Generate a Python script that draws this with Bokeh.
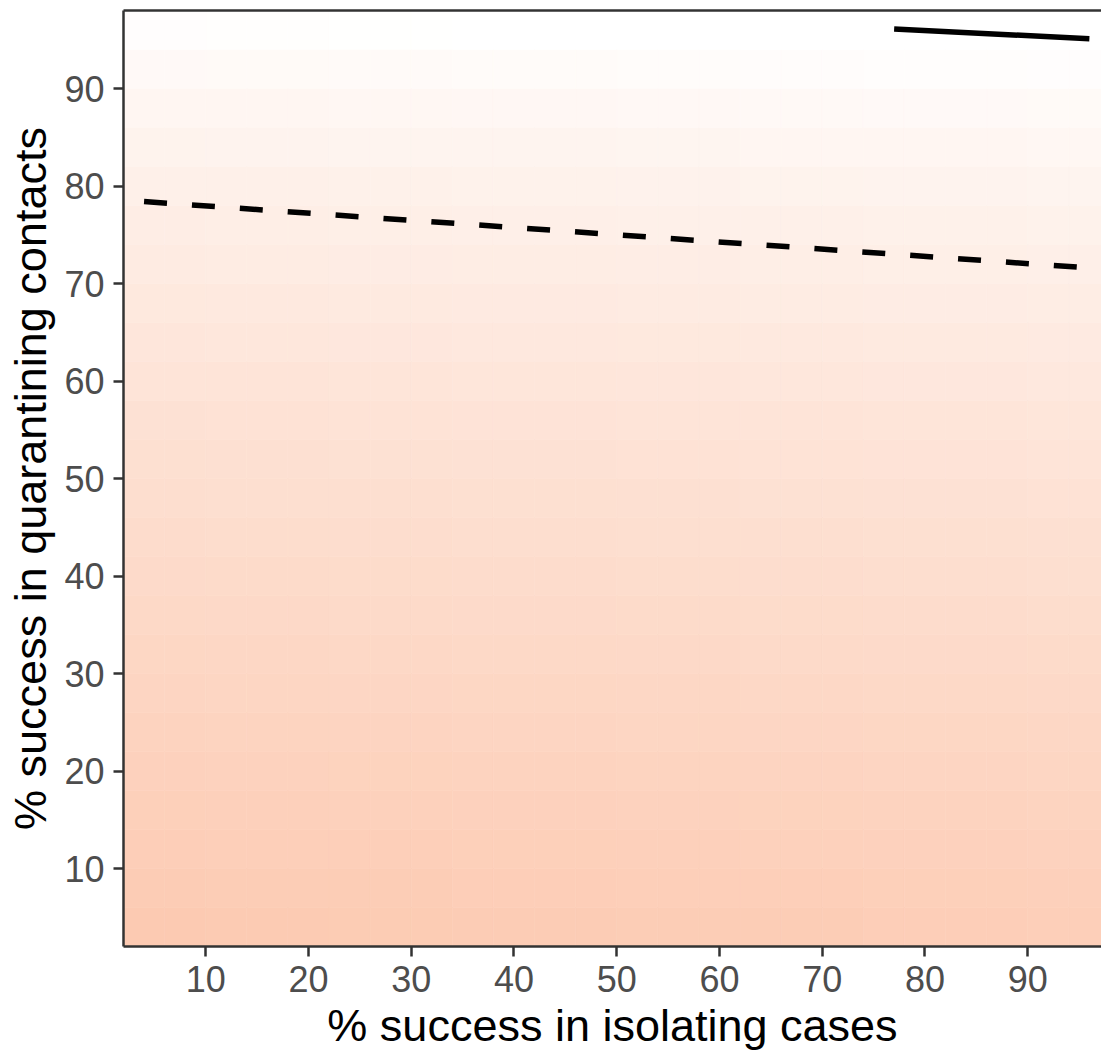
from bokeh.plotting import figure
from bokeh.models import LinearAxis, FixedTicker, ColumnDataSource, LinearColorMapper, Range1d
from bokeh.embed import file_html
from bokeh.resources import INLINE

# ---- data ----
x_centers = [4, 8, 12, 16, 20, 24, 28, 32, 36, 40, 44, 48, 52, 56, 60, 64, 68, 72, 76, 80, 84, 88, 92, 96]
y_centers = [4, 8, 12, 16, 20, 24, 28, 32, 36, 40, 44, 48, 52, 56, 60, 64, 68, 72, 76, 80, 84, 88, 92, 96]
# shade (0 = white, 1 = full peach) along the left column, bottom to top
row_shade = [0.89, 0.86, 0.83, 0.80, 0.77, 0.74, 0.71, 0.68, 0.65, 0.62, 0.59, 0.56,
             0.53, 0.50, 0.46, 0.42, 0.38, 0.34, 0.30, 0.26, 0.21, 0.16, 0.10, 0.03]
# change of shade from left to right
col_shift = [0.00, 0.00, -0.01, -0.01, -0.01, -0.02, -0.02, -0.02, -0.03, -0.03, -0.03, -0.03,
             -0.04, -0.04, -0.04, -0.05, -0.05, -0.05, -0.06, -0.06, -0.06, -0.06, -0.07, -0.07]

tick_values = [10, 20, 30, 40, 50, 60, 70, 80, 90]

dashed_x = [4, 96]
dashed_y = [78.4, 71.6]
solid_x = [77, 96]
solid_y = [96.1, 95.1]

# ---- build grid table ----
xs, ys, zs = [], [], []
for j, yc in enumerate(y_centers):
    for i, xc in enumerate(x_centers):
        xs.append(xc)
        ys.append(yc)
        zs.append(max(0.0, row_shade[j] + col_shift[i]))
src = ColumnDataSource(dict(x=xs, y=ys, z=zs))

low_rgb = (255, 255, 255)
high_rgb = (252, 196, 169)
palette = ["#%02x%02x%02x" % tuple(int(round(l + (h - l) * k / 255.0)) for l, h in zip(low_rgb, high_rgb))
           for k in range(256)]
mapper = LinearColorMapper(palette=palette, low=0, high=1)

p = figure(width=1101, height=1053,
           x_range=Range1d(2, 97.18), y_range=Range1d(2, 98),
           output_backend="svg", toolbar_location=None,
           min_border_left=123, min_border_top=10, min_border_right=0, min_border_bottom=106,
           x_axis_label="% success in isolating cases",
           y_axis_label="% success in quarantining contacts")

p.rect(x="x", y="y", width=4, height=4, source=src,
       fill_color={"field": "z", "transform": mapper},
       line_color={"field": "z", "transform": mapper}, line_width=0.6)

p.line(dashed_x, dashed_y, line_color="black", line_width=5.5, line_dash="23 25")
p.line(solid_x, solid_y, line_color="black", line_width=5.5)

p.xgrid.visible = False
p.ygrid.visible = False
p.outline_line_color = None
p.background_fill_color = "white"
p.border_fill_color = "white"

for ax in (p.xaxis[0], p.yaxis[0]):
    ax.ticker = FixedTicker(ticks=tick_values)
    ax.major_label_text_font = "Liberation Sans"
    ax.major_label_text_font_size = "36px"
    ax.major_label_text_color = "#4d4d4d"
    ax.axis_label_text_font = "Liberation Sans"
    ax.axis_label_text_font_size = "45px"
    ax.axis_label_text_font_style = "normal"
    ax.axis_label_text_color = "black"
    ax.axis_line_color = "#333333"
    ax.axis_line_width = 2.5
    ax.major_tick_line_color = "#333333"
    ax.major_tick_line_width = 2.5
    ax.major_tick_out = 10
    ax.major_tick_in = 0
    ax.minor_tick_line_color = None
    ax.major_label_standoff = 9
    ax.axis_label_standoff = 5

top = LinearAxis(ticker=FixedTicker(ticks=[]), major_label_text_font_size="0px",
                 major_tick_line_color=None, minor_tick_line_color=None,
                 major_tick_out=0, major_tick_in=0, major_label_standoff=0,
                 axis_line_color="#333333", axis_line_width=2.5)
p.add_layout(top, "above")

open("out.html", "w").write(file_html(p, INLINE))
